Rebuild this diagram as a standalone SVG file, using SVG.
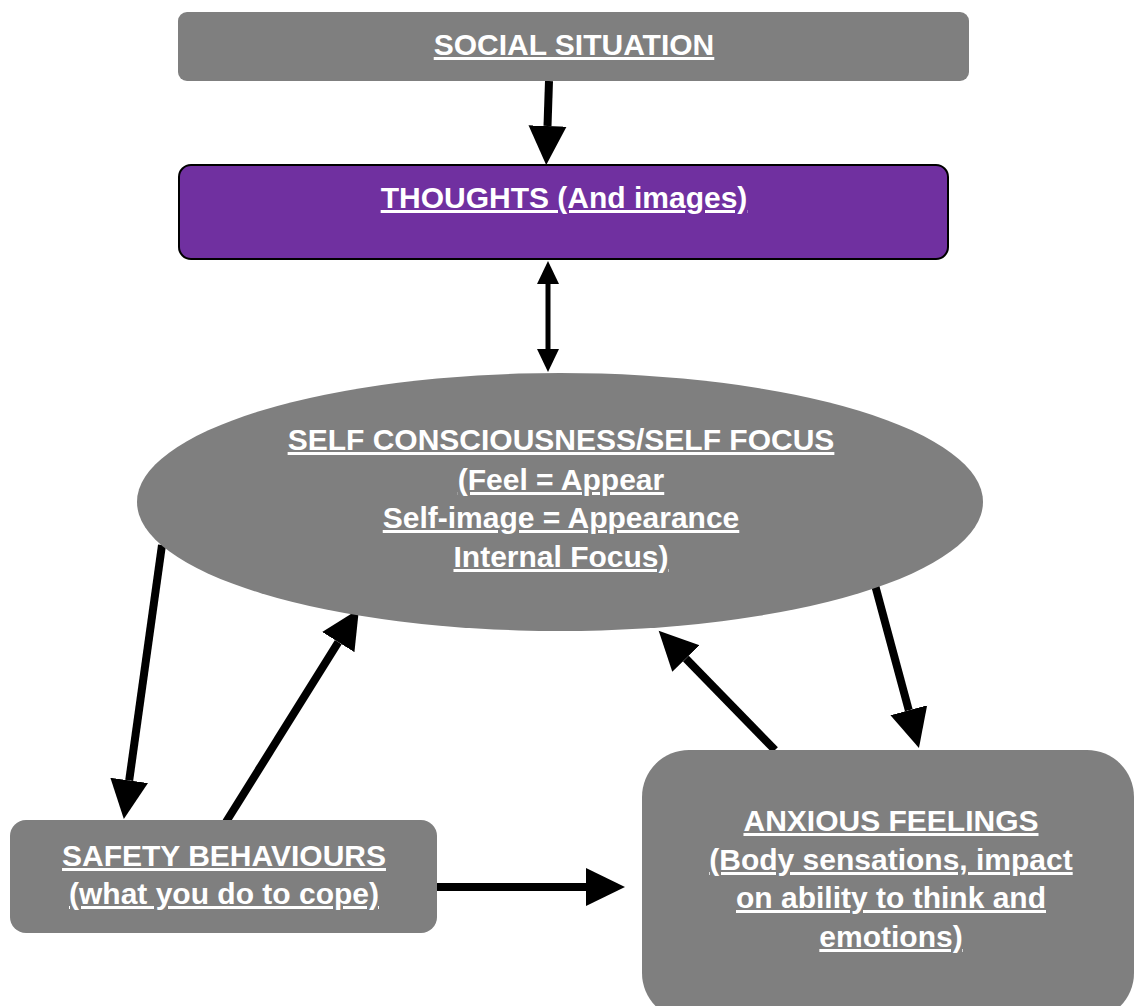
<svg xmlns="http://www.w3.org/2000/svg" width="1134" height="1006" viewBox="0 0 1134 1006">
<style>
.box{fill:#7f7f7f;}
.lbl{font-family:"Liberation Sans",Arial,sans-serif;font-weight:bold;font-size:30px;fill:#ffffff;text-anchor:middle;text-decoration:underline;text-decoration-skip-ink:none;}
.conn{stroke:#000;stroke-width:8;fill:none;}
</style>
<defs>
<marker id="ah" markerUnits="userSpaceOnUse" markerWidth="40" markerHeight="40" viewBox="0 0 40 40" refX="0" refY="20" orient="auto"><path d="M0,1 L39,20 L0,39 z" fill="#000"/></marker>
<marker id="ahs" markerUnits="userSpaceOnUse" markerWidth="24" markerHeight="24" viewBox="0 0 24 24" refX="0" refY="12" orient="auto-start-reverse"><path d="M0,1 L23,12 L0,23 z" fill="#000"/></marker>
</defs>
<rect width="1134" height="1006" fill="#ffffff"/>
<g id="connectors">
<line class="conn" x1="549" y1="81" x2="547.5" y2="126" marker-end="url(#ah)"/>
<line x1="548" y1="284" x2="548" y2="349" stroke="#000" stroke-width="5" marker-start="url(#ahs)" marker-end="url(#ahs)"/>
<line class="conn" x1="162" y1="545" x2="129.2" y2="780.4" marker-end="url(#ah)" stroke-width="7"/>
<line class="conn" x1="226" y1="822" x2="338.3" y2="642.1" marker-end="url(#ah)"/>
<line class="conn" x1="775" y1="750" x2="685.9" y2="658.6" marker-end="url(#ah)"/>
<line class="conn" x1="875" y1="585" x2="908.8" y2="710.3" marker-end="url(#ah)" stroke-width="7"/>
<line class="conn" x1="437" y1="887" x2="586" y2="887" marker-end="url(#ah)" stroke-width="9"/>
</g>
<g id="social">
<rect class="box" x="178" y="12" width="791" height="69" rx="9"/>
<text class="lbl" x="574" y="55">SOCIAL SITUATION</text>
</g>
<g id="thoughts">
<rect x="179" y="165" width="769" height="94" rx="12" fill="#7030a0" stroke="#000" stroke-width="2"/>
<text class="lbl" x="564" y="208">THOUGHTS (And images)</text>
</g>
<g id="selfconsciousness">
<ellipse class="box" cx="560" cy="502" rx="423" ry="129"/>
<text class="lbl" x="561" y="450">SELF CONSCIOUSNESS/SELF FOCUS</text>
<text class="lbl" x="561" y="490">(Feel = Appear</text>
<text class="lbl" x="561" y="528">Self-image = Appearance</text>
<text class="lbl" x="561" y="567">Internal Focus)</text>
</g>
<g id="safety">
<rect class="box" x="10" y="820" width="427" height="113" rx="16"/>
<text class="lbl" x="224" y="866">SAFETY BEHAVIOURS</text>
<text class="lbl" x="224" y="904">(what you do to cope)</text>
</g>
<g id="anxious">
<rect class="box" x="642" y="750" width="492" height="270" rx="47"/>
<text class="lbl" x="891" y="831">ANXIOUS FEELINGS</text>
<text class="lbl" x="891" y="870">(Body sensations, impact</text>
<text class="lbl" x="891" y="908">on ability to think and</text>
<text class="lbl" x="891" y="947">emotions)</text>
</g>
</svg>
